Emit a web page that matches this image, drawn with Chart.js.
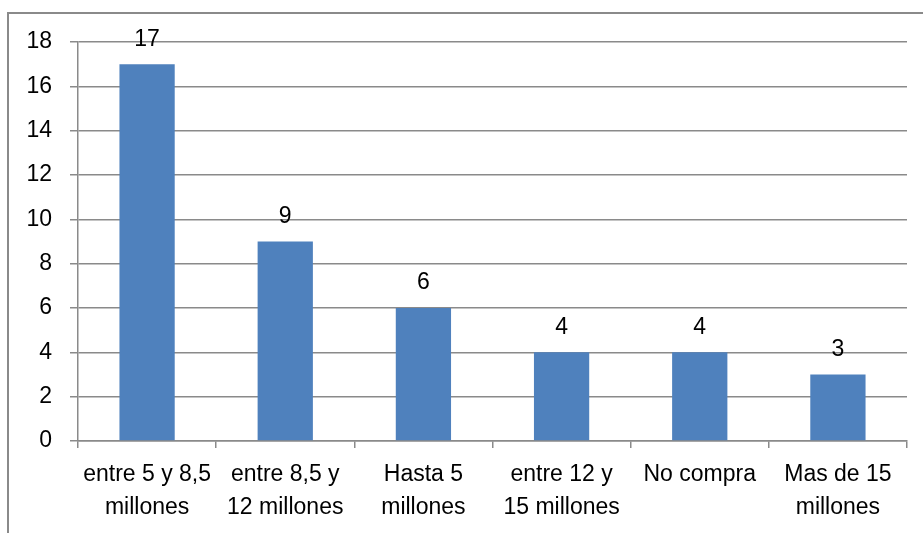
<!DOCTYPE html>
<html>
<head>
<meta charset="utf-8">
<script src="https://cdn.jsdelivr.net/npm/chart.js@4/dist/chart.umd.min.js"></script>
<style>
  html, body { margin: 0; padding: 0; background: #fff; overflow: hidden; }
  #wrap { position: relative; width: 923px; height: 533px; overflow: hidden; }
  /* marco exterior del grafico, sale fuera por la derecha y abajo */
  #marco { position: absolute; left: 7px; top: 12px; width: 940px; height: 560px;
           border-left: 2px solid #8a8a8a; border-top: 2px solid #8a8a8a; }
  #rangoChart { position: absolute; left: 0; top: 0; }
</style>
</head>
<body>
<div id="wrap"><div id="marco"></div><canvas id="rangoChart" width="923" height="533"></canvas></div>
<script>
const categorias = [
    ["entre 5 y 8,5", "millones"],
    ["entre 8,5 y", "12 millones"],
    ["Hasta 5", "millones"],
    ["entre 12 y", "15 millones"],
    "No compra",
    ["Mas de 15", "millones"]
];
const valores = [17, 9, 6, 4, 4, 3];
const yMax = 18;
const yPaso = 2;

const fuente = "'Liberation Sans', Arial, sans-serif";
const gris = '#8a8a8a';

// etiquetas de valor encima de cada barra
const etiquetasPlugin = {
    id: 'etiquetas',
    afterDatasetsDraw(chart) {
        const ctx = chart.ctx;
        const meta = chart.getDatasetMeta(0);
        ctx.save();
        ctx.fillStyle = '#000';
        ctx.font = "23px " + fuente;
        ctx.textAlign = 'center';
        ctx.textBaseline = 'middle';
        meta.data.forEach((bar, i) => {
            ctx.fillText(String(valores[i]), bar.x, bar.y - 25);
        });
        ctx.restore();
    }
};

let rangoChart = new Chart(document.getElementById("rangoChart").getContext("2d"), {
    type: "bar",
    data: {
        labels: categorias,
        datasets: [{
            data: valores,
            backgroundColor: '#4F81BD',
            borderWidth: 0,
            barPercentage: 0.4,
            categoryPercentage: 1.0
        }]
    },
    options: {
        responsive: false,
        animation: false,
        layout: {
            padding: { left: 8, right: 16, top: 42, bottom: 0 }
        },
        plugins: {
            legend: { display: false },
            tooltip: { enabled: false }
        },
        scales: {
            x: {
                afterFit: (s) => { s.height = 92; },
                grid: {
                    offset: true,
                    drawOnChartArea: false,
                    tickLength: 7,
                    color: gris,
                    lineWidth: 1.5
                },
                border: { color: gris, width: 1.5 },
                ticks: {
                    color: '#000',
                    maxRotation: 0,
                    autoSkip: false,
                    padding: 10,
                    font: { family: fuente, size: 23, lineHeight: 1.45 }
                }
            },
            y: {
                min: 0,
                max: yMax,
                afterFit: (s) => { s.width = 70; },
                grid: {
                    color: gris,
                    lineWidth: 1.5,
                    tickLength: 8
                },
                border: { color: gris, width: 1.5 },
                ticks: {
                    stepSize: yPaso,
                    color: '#000',
                    padding: 18,
                    font: { family: fuente, size: 23 }
                }
            }
        }
    },
    plugins: [etiquetasPlugin]
});
</script>
</body>
</html>
